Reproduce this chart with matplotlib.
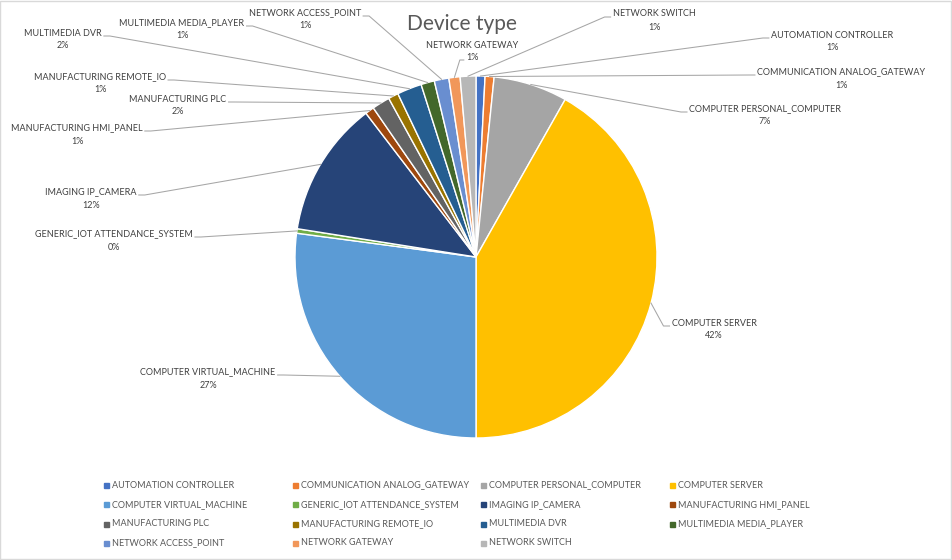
import numpy as np
import matplotlib
matplotlib.use("Agg")
import matplotlib.pyplot as plt
from matplotlib.patches import Rectangle

plt.rcParams['font.family'] = ['Lato', 'DejaVu Sans']

# share of each device type, in percent
device_types = [
    "AUTOMATION CONTROLLER", "COMMUNICATION ANALOG_GATEWAY",
    "COMPUTER PERSONAL_COMPUTER", "COMPUTER SERVER",
    "COMPUTER VIRTUAL_MACHINE", "GENERIC_IOT ATTENDANCE_SYSTEM",
    "IMAGING IP_CAMERA", "MANUFACTURING HMI_PANEL", "MANUFACTURING PLC",
    "MANUFACTURING REMOTE_IO", "MULTIMEDIA DVR", "MULTIMEDIA MEDIA_PLAYER",
    "NETWORK ACCESS_POINT", "NETWORK GATEWAY", "NETWORK SWITCH",
]
shares = [0.8, 0.8, 6.6, 41.8, 27.1, 0.4, 12.1, 0.8, 1.6, 0.9, 2.2, 1.2, 1.3, 1.0, 1.4]
colors = ["#4472C4", "#ED7D31", "#A5A5A5", "#FFC000", "#5B9BD5", "#70AD47",
          "#264478", "#9E480E", "#636363", "#997300", "#255E91", "#43682B",
          "#698ED0", "#F1975A", "#B7B7B7"]

# where each callout sits (centre x, y of the name line), pixels from top-left
label_pos = [(832, 35), (841, 72), (765, 109), (714, 323), (208, 372),
             (114, 234), (91, 192), (77, 128), (178, 99), (100, 77),
             (63, 33), (182, 23), (305, 13), (472, 45), (654, 14)]

W, H = 952, 560
fig = plt.figure(figsize=(W / 100, H / 100), dpi=100)
ax = fig.add_axes([0, 0, 1, 1])

cx, cy, r = 476, 257, 181
# y axis is flipped below, so this runs clockwise from 12 o'clock
wedges, _ = ax.pie(shares, colors=colors, startangle=-90, counterclock=True,
                   center=(cx, cy), radius=r,
                   wedgeprops=dict(edgecolor="white", linewidth=1.0))
ax.set_xlim(0, W)
ax.set_ylim(H, 0)
ax.axis("off")

ax.text(462, 24, "Device type", ha="center", va="center", fontsize=15,
        color="#595959")

fs = 6.5
txt_col = "#404040"
line_col = "#A6A6A6"
fig.canvas.draw()
renderer = fig.canvas.get_renderer()
inv = ax.transData.inverted()

for w, name, share, (lx, ly) in zip(wedges, device_types, shares, label_pos):
    t1 = ax.text(lx, ly, name, ha="center", va="center", fontsize=fs, color=txt_col)
    t2 = ax.text(lx, ly + 13, f"{share:.0f}%", ha="center", va="center",
                 fontsize=fs, color=txt_col)
    ang = np.deg2rad((w.theta1 + w.theta2) / 2)
    ex, ey = cx + r * np.cos(ang), cy + r * np.sin(ang)
    b1 = t1.get_window_extent(renderer).transformed(inv)
    b2 = t2.get_window_extent(renderer).transformed(inv)
    half = (b1.x1 - b1.x0) / 2
    if abs(lx - ex) < half:
        # label sits right above its slice: hook onto the percent line
        y = ly + 15
        end = b2.x0 - 2
        elbow = end - 4
    elif lx > ex:
        y = ly + 3
        end = b1.x0 - 2
        elbow = end - 6
    else:
        y = ly + 3
        end = b1.x1 + 2
        elbow = end + 6
    ax.plot([ex, elbow, end], [ey, y, y], color=line_col, lw=0.75)

# legend, 4 columns like the Excel one
for i, (name, col) in enumerate(zip(device_types, colors)):
    row, c = divmod(i, 4)
    x = 106 + c * 188.7
    y = 485 + row * 19.3
    ax.plot([x], [y], marker="s", markersize=3.6, color=col, linestyle="none")
    ax.text(x + 6, y, name, ha="left", va="center", fontsize=fs, color="#595959")

fig.add_artist(Rectangle((0.0005, 0.001), 0.998, 0.997, transform=fig.transFigure,
                         fill=False, edgecolor="#D9D9D9", lw=1))

fig.savefig("out.png", dpi=100)
